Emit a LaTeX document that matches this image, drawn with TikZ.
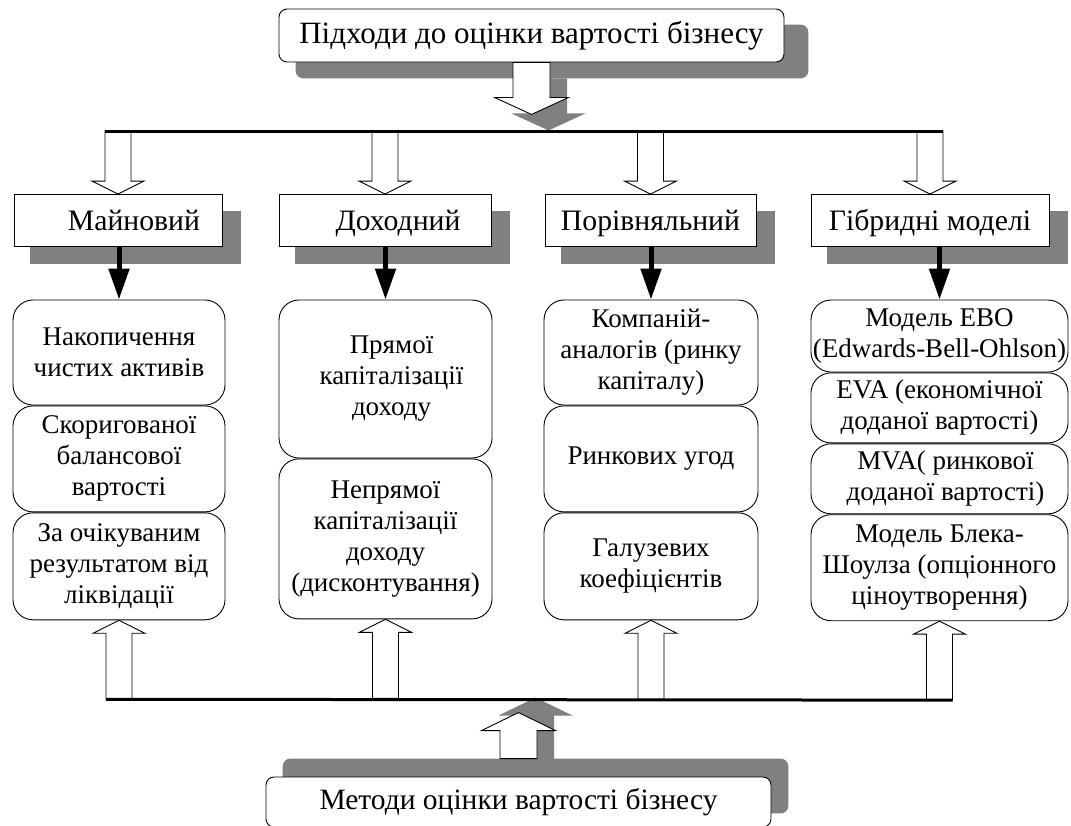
\documentclass[tikz,border=0pt]{standalone}
\usepackage{fontspec}
\setmainfont{Liberation Serif}
\usepackage{tikz}
\usetikzlibrary{arrows.meta,calc,positioning,backgrounds}
\tikzset{
  holovna/.style={draw,line width=0.9pt,fill=white,rounded corners=8pt,minimum width=505pt,minimum height=53pt,inner sep=0pt,font=\fontsize{31}{35}\selectfont},
  pidkhid/.style={draw,line width=0.9pt,fill=white,minimum height=52pt,inner sep=0pt,text height=23pt,text depth=4pt,font=\fontsize{29.7}{34}\selectfont},
  metod/.style={draw,line width=0.9pt,fill=white,rounded corners=20pt,inner sep=0pt,align=center,font=\fontsize{27}{31}\selectfont},
  tin/.style={fill=black!50,draw=none},
  porozhnia/.style={draw,line width=0.9pt,fill=white},
  chorna/.style={-{Triangle[width=20pt,length=31pt]},line width=5pt},
  shyna/.style={line width=3pt}
}

\begin{document}
\begin{tikzpicture}[x=1pt,y=-1pt]
\useasboundingbox (0,0) rectangle (1071,825);
\node[holovna] (verh) at (531.5,35.5) {Підходи до оцінки вартості бізнесу};
\node[pidkhid,minimum width=208pt] (hd1) at (118,220.5) {\hspace*{32pt}Майновий};
\node[pidkhid,minimum width=212pt] (hd2) at (385,220.5) {\hspace*{26pt}Доходний};
\node[pidkhid,minimum width=211pt] (hd3) at (650.5,220.5) {Порівняльний};
\node[pidkhid,minimum width=238pt] (hd4) at (930,220.5) {Гібридні моделі};
\node[metod,minimum width=212pt,minimum height=105pt] (m11) at (119,352.5) {Накопичення\\чистих активів};
\node[metod,minimum width=212pt,minimum height=106pt,below=0pt of m11] (m12) {Скоригованої\\балансової\\вартості};
\node[metod,minimum width=212pt,minimum height=107pt,below=0pt of m12] (m13) {За очікуваним\\результатом від\\ліквідації};
\node[metod,minimum width=213pt,minimum height=158pt] (m21) at (385.5,379) {\hspace*{12pt}Прямої\\\hspace*{12pt}капіталізації\\\hspace*{12pt}доходу};
\node[metod,minimum width=213pt,minimum height=160pt,below=0pt of m21] (m22) {Непрямої\\капіталізації\\доходу\\(дисконтування)};
\node[metod,minimum width=214pt,minimum height=105pt] (m31) at (651,352.5) {Компаній-\\аналогів (ринку\\капіталу)};
\node[metod,minimum width=214pt,minimum height=106pt,below=0pt of m31] (m32) {Ринкових угод};
\node[metod,minimum width=214pt,minimum height=107pt,below=0pt of m32] (m33) {Галузевих\\коефіцієнтів};
\node[metod,minimum width=257pt,minimum height=72pt] (m41) at (939.5,336) {Модель EBO\\(Edwards-Bell-Ohlson)};
\node[metod,minimum width=257pt,minimum height=70pt,below=0pt of m41] (m42) {EVA (економічної\\доданої вартості)};
\node[metod,minimum width=257pt,minimum height=70pt,below=0pt of m42] (m43) {\hspace*{12pt}MVA( ринкової\\\hspace*{12pt}доданої вартості)};
\node[metod,minimum width=257pt,minimum height=106pt,below=0pt of m43] (m44) {Модель Блека-\\Шоулза (опціонного\\ціноутворення)};
\node[holovna,minimum height=50pt,font=\fontsize{29.5}{34}\selectfont] (niz) at (518.5,802) {Методи оцінки вартості бізнесу};
\begin{scope}[on background layer]
\fill[tin,rounded corners=8pt] ($(verh.north west)+(17,16)$) rectangle ($(verh.south east)+(24,16)$);
\foreach \i in {1,...,4}{\fill[tin] ($(hd\i.north west)+(16,17)$) rectangle ($(hd\i.south east)+(19,17)$);}
\fill[tin] ($(verh.south)+(-1.5,16)$) -- ++(0,35) -- ++(-18.5,0) -- ++(37,17) -- ++(37,-17) -- ++(-18.5,0) -- ++(0,-35) -- cycle;
\fill[tin,rounded corners=8pt] ($(niz.north west)+(17,-18)$) rectangle ($(niz.south east)+(17,-14)$);
\fill[tin] ($(niz.north)+(-1.5,-17)$) -- ++(0,-44) -- ++(-18.5,0) -- ++(37,-18) -- ++(37,18) -- ++(-18.5,0) -- ++(0,44) -- cycle;
\end{scope}
\draw[porozhnia] ($(verh.south)+(-18.5,0)$) -- ++(0,35) -- ++(-18.5,0) -- ++(37,17) -- ++(37,-17) -- ++(-18.5,0) -- ++(0,-35) -- cycle;
\foreach \i in {1,...,4}{\draw[porozhnia] ($(hd\i.north)+(-13,-63)$) -- ++(0,50) -- ++(-13,0) -- ++(26,13) -- ++(26,-13) -- ++(-13,0) -- ++(0,-50) -- cycle;}
\draw[shyna] ($(hd1.north)+(-13,-63)$) -- ($(hd4.north)+(13,-63)$);
\foreach \i in {1,...,4}{\draw[chorna] (m\i1.north |- hd\i.south) -- (m\i1.north);}
\foreach \i in {13,22,33,44}{\draw[porozhnia] ($(m\i.south)+(-13,79)$) -- ++(0,-66) -- ++(-13,0) -- ++(26,-13) -- ++(26,13) -- ++(-13,0) -- ++(0,66) -- cycle;}
\draw[shyna] ($(m13.south)+(-13,79)$) -- ($(m44.south)+(13,79)$);
\draw[porozhnia] ($(niz.north)+(-18.5,-18)$) -- ++(0,-28) -- ++(-18.5,0) -- ++(37,-18) -- ++(37,18) -- ++(-18.5,0) -- ++(0,28) -- cycle;
\end{tikzpicture}
\end{document}
